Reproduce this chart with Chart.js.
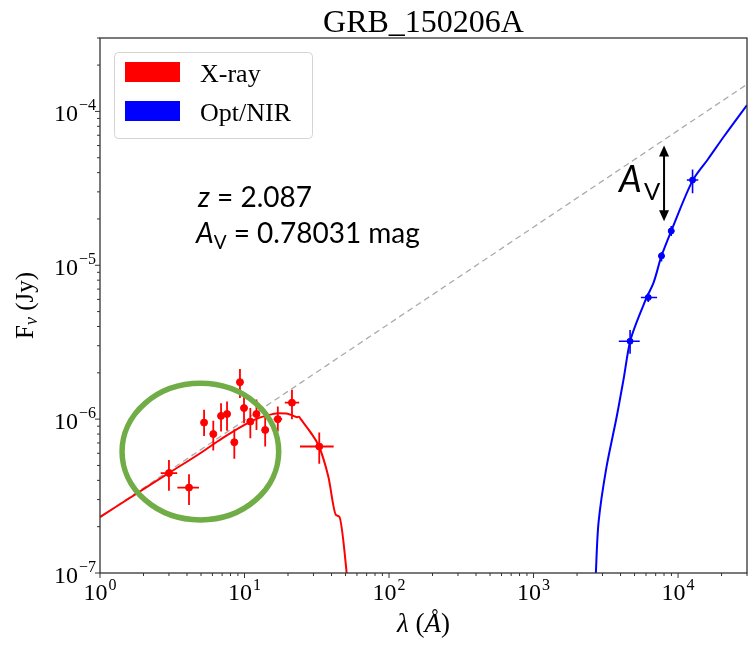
<!DOCTYPE html>
<html>
<head>
<meta charset="utf-8">
<script src="https://cdn.jsdelivr.net/npm/chart.js@4.4.1/dist/chart.umd.min.js"></script>
<style>
  html, body { margin: 0; padding: 0; background: #fff; }
  canvas { display: block; }
</style>
</head>
<body>
<canvas id="sed" width="753" height="645"></canvas>
<script>
// --- X-ray photometry (wavelength in Angstrom, flux in Jy)
const xrayLam    = [3.0, 4.13, 5.25, 6.08, 6.88, 7.57, 8.5, 9.3, 9.92, 10.97, 12.1, 13.9, 17.0, 21.3, 32.9];
const xrayLamLo  = [2.63, 3.43, 5.1, 5.92, 6.7, 7.38, 8.3, 9.1, 9.72, 10.75, 11.85, 13.6, 15.9, 19.0, 24.2];
const xrayLamHi  = [3.42, 4.84, 5.4, 6.24, 7.06, 7.76, 8.7, 9.5, 10.12, 11.2, 12.35, 14.2, 18.2, 23.9, 41.4];
const xrayFlux   = [4.46e-7, 3.59e-7, 9.5e-7, 8.0e-7, 1.05e-6, 1.08e-6, 7.08e-7, 1.74e-6, 1.18e-6, 9.64e-7, 1.08e-6, 8.5e-7, 1.0e-6, 1.28e-6, 6.64e-7];
const xrayFluxLo = [3.43e-7, 2.77e-7, 7.78e-7, 6.25e-7, 8.3e-7, 8.39e-7, 5.52e-7, 1.37e-6, 9.42e-7, 7.52e-7, 8.51e-7, 6.64e-7, 8.3e-7, 1.0e-6, 5.12e-7];
const xrayFluxHi = [5.43e-7, 4.38e-7, 1.15e-6, 9.75e-7, 1.27e-6, 1.30e-6, 8.6e-7, 2.12e-6, 1.46e-6, 1.18e-6, 1.34e-6, 1.07e-6, 1.21e-6, 1.55e-6, 8.18e-7];

// --- Opt/NIR photometry
const optLam    = [4656, 6220, 7680, 8970, 12600];
const optLamLo  = [3890, 5530, 7340, 8530, 11500];
const optLamHi  = [5430, 7160, 8050, 9410, 13800];
const optFlux   = [3.21e-6, 6.18e-6, 1.15e-5, 1.67e-5, 3.58e-5];
const optFluxLo = [2.66e-6, 5.77e-6, 1.06e-5, 1.55e-5, 2.94e-5];
const optFluxHi = [3.79e-6, 6.6e-6, 1.22e-5, 1.8e-5, 4.2e-5];

// --- model curves
const xModelLam  = [1, 2, 3, 5, 7, 10, 12, 14, 17.1, 19.5, 21.8, 23.2, 23.8, 24.5, 28.4, 32.8, 38.0, 43.0, 45.3, 50.9, 53];
const xModelFlux = [2.31e-7, 3.51e-7, 4.47e-7, 6.05e-7, 7.5e-7, 9.18e-7, 1.0e-6, 1.05e-6, 1.094e-6, 1.089e-6, 1.05e-6, 1.03e-6, 1.038e-6, 1.0e-6, 8.3e-7, 6.64e-7, 4.24e-7, 2.38e-7, 2.32e-7, 1.0e-7, 6.3e-8];
const oModelLam  = [2650, 2700, 2820, 3190, 3750, 4220, 4700, 5970, 6780, 7680, 8970, 12600, 16100, 21000, 30000];
const oModelFlux = [6e-8, 1.0e-7, 2.15e-7, 4.82e-7, 1.02e-6, 1.87e-6, 3.3e-6, 5.97e-6, 7.74e-6, 1.15e-5, 1.67e-5, 3.55e-5, 4.89e-5, 6.97e-5, 1.1e-4];
const plLam  = [1, 30000];            // unabsorbed power law
const plFlux = [2.31e-7, 1.5e-4];

// --- A_V arrow and highlighted region (data units)
const avLam = 8000, avTop = 6.0e-5, avBottom = 1.93e-5;
const ringCenter = [4.95, 6.15e-7], ringHalfDex = [0.542, 0.444];

// --- axes
const xTickExps = [0, 1, 2, 3, 4];
const yTickExps = [-7, -6, -5, -4];
const xRange = [1, 3e4];
const yRange = [1e-7, 3e-4];

const titleText = 'GRB_150206A';
const legendLabels = ['X-ray', 'Opt/NIR'];
const legendColors = ['#ff0000', '#0000ff'];
const infoLines = ['2.087', '0.78031 mag'];

const SERIF = '"Liberation Serif", "Times New Roman", serif';
const SANS = 'Lato, "Open Sans", sans-serif';

function pts(xs, ys){ return xs.map((x, i) => ({ x, y: ys[i] })); }

// error bars as null-separated segments
function errSegments(xs, ys, xlo, xhi, ylo, yhi){
  const out = [];
  xs.forEach((x, i) => {
    out.push({ x: xlo[i], y: ys[i] }, { x: xhi[i], y: ys[i] }, { x, y: null });
    out.push({ x, y: ylo[i] }, { x, y: yhi[i] }, { x, y: null });
  });
  return out;
}

function logTicks(exps, range){
  const t = [];
  exps.forEach(e => {
    for (let m = 1; m <= 9; m++){
      const v = m * Math.pow(10, e);
      if (v >= range[0] * 0.999 && v <= range[1] * 1.001) t.push({ value: v, major: m === 1 });
    }
  });
  return t;
}

function drawPow10(ctx, exp, x, y, align, base, sup, raise){
  const e = (exp < 0 ? '\u2212' : '') + Math.abs(exp);
  ctx.font = base + 'px ' + SERIF;
  const w1 = ctx.measureText('10').width;
  ctx.font = sup + 'px ' + SERIF;
  const w2 = ctx.measureText(e).width;
  const total = w1 + 1 + w2;
  const left = align === 'center' ? x - total / 2 : x - total;
  ctx.textAlign = 'left';
  ctx.textBaseline = 'alphabetic';
  ctx.font = base + 'px ' + SERIF;
  ctx.fillText('10', left, y);
  ctx.font = sup + 'px ' + SERIF;
  ctx.fillText(e, left + w1 + 1, y - raise);
}

const decor = {
  id: 'decor',
  afterDraw(chart){
    const { ctx, chartArea: a, scales: { x, y } } = chart;
    ctx.save();

    // title
    ctx.fillStyle = '#000';
    ctx.textAlign = 'center'; ctx.textBaseline = 'alphabetic';
    ctx.font = '32px ' + SERIF;
    ctx.fillText(titleText, (a.left + a.right) / 2, 32);

    // highlighted ring
    const cx = x.getPixelForValue(ringCenter[0]);
    const cy = y.getPixelForValue(ringCenter[1]);
    const rx = x.getPixelForValue(ringCenter[0] * Math.pow(10, ringHalfDex[0])) - cx;
    const ry = cy - y.getPixelForValue(ringCenter[1] * Math.pow(10, ringHalfDex[1]));
    ctx.strokeStyle = '#70ad47';
    ctx.lineWidth = 5.5;
    ctx.beginPath();
    ctx.ellipse(cx, cy, rx, ry, 0, 0, Math.PI * 2);
    ctx.stroke();

    // A_V double arrow
    const ax = x.getPixelForValue(avLam);
    const at = y.getPixelForValue(avTop), ab = y.getPixelForValue(avBottom);
    ctx.strokeStyle = '#000'; ctx.fillStyle = '#000'; ctx.lineWidth = 2;
    ctx.beginPath(); ctx.moveTo(ax, at + 8); ctx.lineTo(ax, ab - 8); ctx.stroke();
    ctx.beginPath(); ctx.moveTo(ax, at); ctx.lineTo(ax - 5, at + 11); ctx.lineTo(ax + 5, at + 11); ctx.closePath(); ctx.fill();
    ctx.beginPath(); ctx.moveTo(ax, ab); ctx.lineTo(ax - 5, ab - 11); ctx.lineTo(ax + 5, ab - 11); ctx.closePath(); ctx.fill();
    ctx.textAlign = 'left'; ctx.textBaseline = 'alphabetic';
    ctx.font = 'italic 36px ' + SANS;
    ctx.fillText('A', 619, 192);
    ctx.font = '24px ' + SANS;
    ctx.fillText('V', 644, 200);

    // z and A_V text
    ctx.font = 'italic 28px ' + SANS;
    ctx.fillText('z', 198, 207);
    let w = ctx.measureText('z').width;
    ctx.font = '28px ' + SANS;
    ctx.fillText(' = ' + infoLines[0], 198 + w, 207);
    ctx.font = 'italic 28px ' + SANS;
    ctx.fillText('A', 196, 243);
    w = ctx.measureText('A').width;
    ctx.font = '19px ' + SANS;
    ctx.fillText('V', 196 + w, 249);
    const wv = ctx.measureText('V').width;
    ctx.font = '28px ' + SANS;
    ctx.fillText(' = ' + infoLines[1], 196 + w + wv, 243);

    // legend
    ctx.fillStyle = 'rgba(255,255,255,0.85)';
    ctx.strokeStyle = '#d4d4d4'; ctx.lineWidth = 1;
    ctx.beginPath(); ctx.roundRect(114.5, 52.5, 198, 86, 4); ctx.fill(); ctx.stroke();
    legendLabels.forEach((lab, i) => {
      const top = 62 + i * 39;
      ctx.fillStyle = legendColors[i];
      ctx.fillRect(125, top, 55, 20);
      ctx.fillStyle = '#000';
      ctx.font = '26px ' + SERIF;
      ctx.fillText(lab, 200, top + 20);
    });

    // frame
    ctx.strokeStyle = '#333'; ctx.lineWidth = 1.3;
    ctx.strokeRect(a.left, a.top, a.right - a.left, a.bottom - a.top);

    // ticks + labels
    ctx.lineWidth = 1;
    x.ticks.forEach(t => {
      const p = x.getPixelForValue(t.value);
      ctx.beginPath(); ctx.moveTo(p, a.bottom); ctx.lineTo(p, a.bottom + (t.major ? 5 : 3)); ctx.stroke();
      if (t.major) drawPow10(ctx, Math.round(Math.log10(t.value)), p, 600, 'center', 24, 16, 10);
    });
    y.ticks.forEach(t => {
      const p = y.getPixelForValue(t.value);
      ctx.beginPath(); ctx.moveTo(a.left, p); ctx.lineTo(a.left - (t.major ? 5 : 3), p); ctx.stroke();
      if (t.major) drawPow10(ctx, Math.round(Math.log10(t.value)), 96, p + 10, 'right', 24, 16, 11);
    });

    // axis titles
    ctx.fillStyle = '#000';
    const fs = 27;
    ctx.font = 'italic ' + fs + 'px ' + SERIF;
    const lw = ctx.measureText('\u03bb').width;
    ctx.font = fs + 'px ' + SERIF;
    const pw = ctx.measureText(' (').width;
    ctx.font = 'italic ' + fs + 'px ' + SERIF;
    const aw = ctx.measureText('\u00c5').width;
    ctx.font = fs + 'px ' + SERIF;
    const cw = ctx.measureText(')').width;
    let xl = (a.left + a.right) / 2 - (lw + pw + aw + cw) / 2;
    ctx.font = 'italic ' + fs + 'px ' + SERIF; ctx.fillText('\u03bb', xl, 632); xl += lw;
    ctx.font = fs + 'px ' + SERIF; ctx.fillText(' (', xl, 632); xl += pw;
    ctx.font = 'italic ' + fs + 'px ' + SERIF; ctx.fillText('\u00c5', xl, 632); xl += aw;
    ctx.font = fs + 'px ' + SERIF; ctx.fillText(')', xl, 632);

    ctx.translate(33, (a.top + a.bottom) / 2);
    ctx.rotate(-Math.PI / 2);
    ctx.font = '25px ' + SERIF;
    const fw = ctx.measureText('F').width;
    ctx.font = 'italic 18px ' + SERIF;
    const nw = ctx.measureText('\u03bd').width;
    ctx.font = '25px ' + SERIF;
    const jw = ctx.measureText(' (Jy)').width;
    let yl = -(fw + nw + jw) / 2;
    ctx.fillText('F', yl, 0); yl += fw;
    ctx.font = 'italic 18px ' + SERIF; ctx.fillText('\u03bd', yl, 4); yl += nw;
    ctx.font = '25px ' + SERIF; ctx.fillText(' (Jy)', yl, 0);

    ctx.restore();
  }
};

const chart = new Chart(document.getElementById('sed'), {
  type: 'line',
  data: {
    datasets: [
      { label: 'power law', data: pts(plLam, plFlux), borderColor: '#ababab', borderWidth: 1.3, borderDash: [6, 4], pointRadius: 0, order: 6 },
      { label: 'X-ray model', data: pts(xModelLam, xModelFlux), borderColor: '#ff0000', borderWidth: 2, pointRadius: 0, cubicInterpolationMode: 'monotone', order: 5 },
      { label: 'Opt/NIR model', data: pts(oModelLam, oModelFlux), borderColor: '#0000ff', borderWidth: 2, pointRadius: 0, tension: 0.3, order: 5 },
      { label: 'X-ray err', data: errSegments(xrayLam, xrayFlux, xrayLamLo, xrayLamHi, xrayFluxLo, xrayFluxHi), borderColor: '#ff0000', borderWidth: 1.8, pointRadius: 0, spanGaps: false, order: 4 },
      { label: 'Opt/NIR err', data: errSegments(optLam, optFlux, optLamLo, optLamHi, optFluxLo, optFluxHi), borderColor: '#0000ff', borderWidth: 1.6, pointRadius: 0, spanGaps: false, order: 4 },
      { label: 'X-ray', data: pts(xrayLam, xrayFlux), showLine: false, pointRadius: 3.5, pointBackgroundColor: '#ff0000', pointBorderColor: '#ff0000', order: 3 },
      { label: 'Opt/NIR', data: pts(optLam, optFlux), showLine: false, pointRadius: 3, pointBackgroundColor: '#0000ff', pointBorderColor: '#0000ff', order: 3 }
    ]
  },
  options: {
    responsive: false,
    animation: false,
    layout: { padding: { top: 38, right: 6, bottom: 0, left: 0 } },
    plugins: {
      legend: { display: false },
      tooltip: { enabled: false },
      title: { display: false }
    },
    scales: {
      x: {
        type: 'logarithmic', min: xRange[0], max: xRange[1],
        grid: { display: false }, border: { display: false },
        ticks: { display: false },
        afterBuildTicks: s => { s.ticks = logTicks(xTickExps, xRange); },
        afterFit: s => { s.height = 72; }
      },
      y: {
        type: 'logarithmic', min: yRange[0], max: yRange[1],
        grid: { display: false }, border: { display: false },
        ticks: { display: false },
        afterBuildTicks: s => { s.ticks = logTicks(yTickExps, yRange); },
        afterFit: s => { s.width = 100; }
      }
    }
  },
  plugins: [decor]
});
</script>
</body>
</html>
